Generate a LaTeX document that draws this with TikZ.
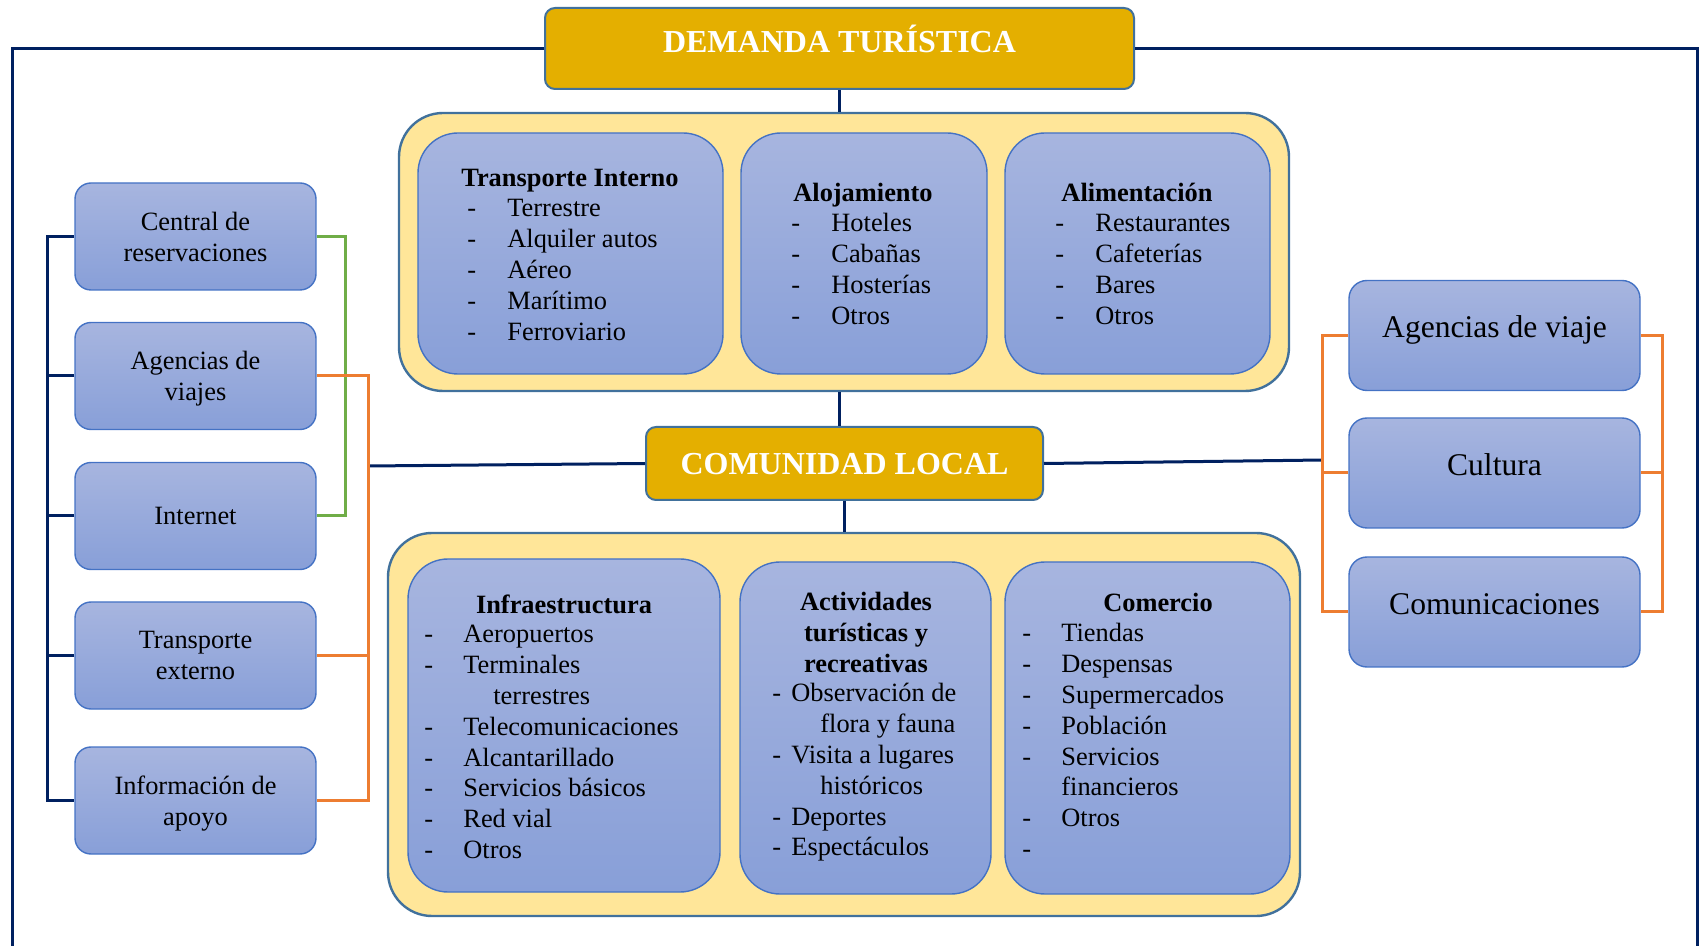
\documentclass[tikz,border=0pt]{standalone}
\usepackage{fontspec}
\setmainfont{Liberation Serif}
\usepackage{xcolor}
\definecolor{navyline}{RGB}{0, 32, 96}
\definecolor{titlegold}{RGB}{228, 175, 0}
\definecolor{edgeblue}{RGB}{65, 113, 156}
\definecolor{paleyellow}{RGB}{255, 230, 153}
\definecolor{boxtop}{RGB}{167, 181, 223}
\definecolor{boxbottom}{RGB}{136, 159, 216}
\definecolor{boxedge}{RGB}{68, 114, 196}
\definecolor{linkorange}{RGB}{237, 125, 49}
\definecolor{linkgreen}{RGB}{112, 173, 71}
\usepackage{tikz}
\usetikzlibrary{calc}

\begin{document}
\begin{tikzpicture}[x=0.5pt, y=-0.5pt,
    titlebox/.style={draw=edgeblue, line width=1pt, fill=titlegold, rounded corners=5pt, text=white, font=\fontsize{16}{19}\selectfont\bfseries, text height=0.66em},
    panelbox/.style={draw=edgeblue, line width=1.2pt, fill=paleyellow, rounded corners=22pt},
    cardbox/.style={draw=boxedge, line width=0.7pt, top color=boxtop, bottom color=boxbottom, rounded corners=20pt, inner sep=0pt},
    sidebox/.style={cardbox, rounded corners=8pt, minimum width=120.5pt, minimum height=53.5pt, align=center, text depth=0pt, font=\fontsize{13.2}{15.5}\selectfont},
    bigbox/.style={cardbox, rounded corners=9pt, minimum width=145.5pt, minimum height=55pt, font=\fontsize{15.8}{19}\selectfont, text height=0.66em, text depth=4.3pt},
    headtext/.style={anchor=base, inner sep=0pt, font=\fontsize{13.2}{15.5}\selectfont\bfseries},
    itemtext/.style={anchor=base west, inner sep=0pt, font=\fontsize{13.2}{15.45}\selectfont},
    navylink/.style={navyline, line width=1.5pt},
    orangelink/.style={linkorange, line width=1.5pt},
    greenlink/.style={linkgreen, line width=1.5pt}]
    \useasboundingbox (0,0) rectangle (1699,946);

    \node[titlebox, minimum width=294.5pt, minimum height=40.5pt, text depth=2.1pt] (demanda) at (839.5,48.5) {DEMANDA TURÍSTICA};
    \node[panelbox, minimum width=445pt, minimum height=139pt] (ctop) at (844,252) {};
    \node[panelbox, minimum width=456pt, minimum height=191.5pt] (cbot) at (844,724.5) {};
    \node[titlebox, minimum width=198.5pt, minimum height=36.5pt, text height=11.3pt, text depth=0pt] (comunidad) at (844.5,463.5) {COMUNIDAD LOCAL};

    % oferta: transporte, alojamiento, alimentacion
    \node[cardbox, minimum width=152.5pt, minimum height=120.5pt] (trin) at (570.5,253.5) {};
    \node[cardbox, minimum width=123pt, minimum height=120.5pt] (aloj) at (864,253.5) {};
    \node[cardbox, minimum width=132.5pt, minimum height=120.5pt] (alim) at (1137.5,253.5) {};
    \node[headtext] (trin-head) at (570,187) {Transporte Interno};
    \node[headtext] (aloj-head) at (863,201.5) {Alojamiento};
    \node[headtext] (alim-head) at (1137,201.5) {Alimentación};
    \node[itemtext] (trin-list) at (467,216.5) {\begin{tabular}[t]{@{}p{20pt}@{}l@{}}
        - & Terrestre\\ - & Alquiler autos\\ - & Aéreo\\ - & Marítimo\\ - & Ferroviario\end{tabular}};
    \node[itemtext] (aloj-list) at (791,231.5) {\begin{tabular}[t]{@{}p{20pt}@{}l@{}}
        - & Hoteles\\ - & Cabañas\\ - & Hosterías\\ - & Otros\end{tabular}};
    \node[itemtext] (alim-list) at (1055,231.5) {\begin{tabular}[t]{@{}p{20pt}@{}l@{}}
        - & Restaurantes\\ - & Cafeterías\\ - & Bares\\ - & Otros\end{tabular}};

    % comunidad: infraestructura, actividades, comercio
    \node[cardbox, minimum width=156pt, minimum height=166.5pt] (infra) at (564,725.5) {};
    \node[cardbox, minimum width=125.5pt, minimum height=166pt] (activ) at (865.5,728) {};
    \node[cardbox, minimum width=142.5pt, minimum height=166pt] (comer) at (1147.5,728) {};
    \node[headtext] (infra-head) at (564,613.5) {Infraestructura};
    \node[headtext] (activ-head) at (866,610.5) {\begin{tabular}[t]{@{}c@{}}Actividades\\ turísticas y\\ recreativas\end{tabular}};
    \node[headtext] (comer-head) at (1158,611.5) {Comercio};
    \node[itemtext] (infra-list) at (424,642.5) {\begin{tabular}[t]{@{}p{19.5pt}@{}l@{}}
        - & Aeropuertos\\ - & Terminales\\ & \hspace{15pt}terrestres\\ - & Telecomunicaciones\\ - & Alcantarillado\\
        - & Servicios básicos\\ - & Red vial\\ - & Otros\end{tabular}};
    \node[itemtext] (activ-list) at (772,701.5) {\begin{tabular}[t]{@{}p{9.5pt}@{}l@{}}
        - & Observación de\\ & \hspace{14.5pt}flora y fauna\\ - & Visita a lugares\\ & \hspace{14.5pt}históricos\\
        - & Deportes\\ - & Espectáculos\end{tabular}};
    \node[itemtext] (comer-list) at (1022,641.5) {\begin{tabular}[t]{@{}p{19.5pt}@{}l@{}}
        - & Tiendas\\ - & Despensas\\ - & Supermercados\\ - & Población\\ - & Servicios\\ & financieros\\
        - & Otros\\ - & \end{tabular}};

    % lado izquierdo
    \node[sidebox] (cres) at (195.5,236.5) {Central de\\reservaciones};
    \node[sidebox] (agv) at (195.5,376) {Agencias de\\viajes};
    \node[sidebox] (inet) at (195.5,516) {Internet};
    \node[sidebox] (trex) at (195.5,655.5) {Transporte\\externo};
    \node[sidebox] (info) at (195.5,800.5) {Información de\\apoyo};

    % lado derecho
    \node[bigbox] (rag) at (1494.5,335.5) {Agencias de viaje};
    \node[bigbox] (rcul) at (1494.5,473) {Cultura};
    \node[bigbox] (rcom) at (1494.5,612) {Comunicaciones};

    \coordinate (lfoot) at (12,946);
    \coordinate (rfoot) at (1697,946);
    \coordinate (lbr) at (368,466);
    \coordinate (rbr) at (1323,460);

    \draw[navylink] (demanda.west) -| (lfoot);
    \draw[navylink] (demanda.east) -| (rfoot);
    \draw[navylink] (demanda.south) -- (demanda.south |- ctop.north);
    \draw[navylink] (ctop.south -| demanda.south) -- (comunidad.north -| demanda.south);
    \draw[navylink] (comunidad.south) -- (cbot.north -| comunidad.south);
    \draw[navylink] (lbr) -- (comunidad.west);
    \draw[navylink] (comunidad.east) -- (rbr);

    \draw[navylink] (cres.west) -- ++(-27,0) |- (info.west);
    \foreach \n in {agv, inet, trex} \draw[navylink] (\n.west) -- ++(-27,0);
    \draw[greenlink] (cres.east) -- ++(29,0) |- (inet.east);
    \draw[orangelink] (agv.east) -- ++(52,0) |- (info.east);
    \draw[orangelink] (trex.east) -- ++(52,0);

    \draw[orangelink] (rag.west) -- ++(-26,0) |- (rcom.west);
    \draw[orangelink] (rcul.west) -- ++(-26,0);
    \draw[orangelink] (rag.east) -- ++(22,0) |- (rcom.east);
    \draw[orangelink] (rcul.east) -- ++(22,0);
\end{tikzpicture}
\end{document}
